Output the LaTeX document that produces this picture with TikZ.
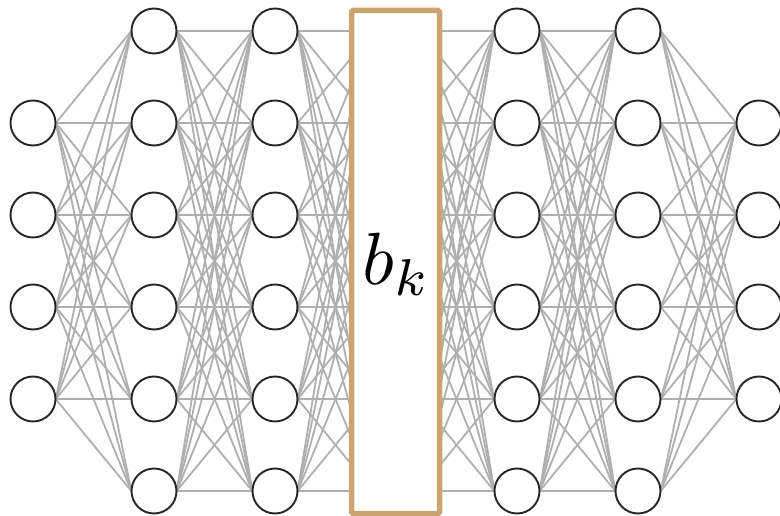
\documentclass[tikz,border=0pt]{standalone}
\definecolor{edgegray}{RGB}{175,175,175}
\definecolor{nodedark}{RGB}{38,38,38}
\definecolor{tan}{RGB}{204,164,114}
\begin{document}
\begin{tikzpicture}[x=1pt,y=-1pt,
  neuron/.style={circle,draw=nodedark,fill=white,line width=1.9pt,minimum size=45pt,inner sep=0pt},
  hidden/.style={circle,minimum size=45pt,inner sep=0pt},
  edge/.style={draw=edgegray,line width=1.8pt},
  bottleneck/.style={draw=tan,fill=white,line width=5.5pt,rounded corners=1.5pt,minimum width=88pt,minimum height=503pt,inner sep=0pt}]
\useasboundingbox (0,0) rectangle (780,516);
% layer x positions
\def\xa{33}\def\xb{154}\def\xc{275}\def\xd{396}\def\xe{517}\def\xf{638}\def\xg{759}
% coordinates of nodes (named), drawn later
\foreach \r/\y in {1/123,2/215,3/307,4/399}{
  \node[hidden] (a\r) at (\xa,\y) {};
  \node[hidden] (g\r) at (\xg,\y) {};
}
\foreach \r/\y in {1/31,2/123,3/215,4/307,5/399,6/491}{
  \node[hidden] (b\r) at (\xb,\y) {};
  \node[hidden] (c\r) at (\xc,\y) {};
  \node[hidden] (d\r) at (\xd,\y) {};
  \node[hidden] (e\r) at (\xe,\y) {};
  \node[hidden] (f\r) at (\xf,\y) {};
}
% edges
\foreach \i in {1,...,4}{\foreach \j in {1,...,6}{
  \draw[edge] (a\i.east) -- (b\j.west);
  \draw[edge] (f\j.east) -- (g\i.west);
}}
\foreach \i in {1,...,6}{\foreach \j in {1,...,6}{
  \draw[edge] (b\i.east) -- (c\j.west);
  \draw[edge] (c\i.east) -- (d\j.west);
  \draw[edge] (d\i.east) -- (e\j.west);
  \draw[edge] (e\i.east) -- (f\j.west);
}}
% visible neurons
\foreach \r in {1,...,4}{
  \node[neuron] (A\r) at (a\r) {};
  \node[neuron] (G\r) at (g\r) {};
}
\foreach \r in {1,...,6}{
  \node[neuron] (B\r) at (b\r) {};
  \node[neuron] (C\r) at (c\r) {};
  \node[neuron] (E\r) at (e\r) {};
  \node[neuron] (F\r) at (f\r) {};
}
% bottleneck box
\node[bottleneck] (box) at (395.5,262) {};
\node (lbl) at (397,264) {\scalebox{7.4}{$b_k$}};
\end{tikzpicture}
\end{document}
